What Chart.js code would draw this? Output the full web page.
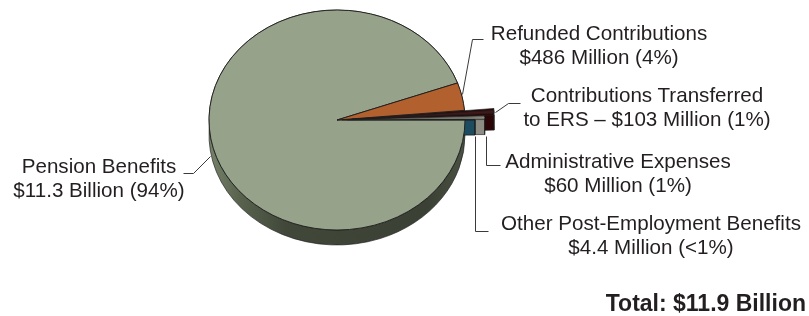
<!DOCTYPE html>
<html>
<head>
<meta charset="utf-8">
<script src="https://cdn.jsdelivr.net/npm/chart.js@4.4.1/dist/chart.umd.min.js"></script>
<style>
  body { margin: 0; background: #fff; }
  #wrap { position: relative; width: 809px; height: 316px; overflow: hidden;
          font-family: Arial, "Liberation Sans", sans-serif; color: #231f20; }
  #wrap canvas { position: absolute; left: 0; top: 0; }
  .lbl { position: absolute; font-size: 20.6px; line-height: 24px; text-align: center;
         white-space: nowrap; transform: translateX(-50%); }
  .total { position: absolute; right: 3px; top: 290px; font-weight: bold; font-size: 23px;
           line-height: 26px; white-space: nowrap; }
</style>
</head>
<body>
<div id="wrap">
  <canvas id="chartGastos" width="809" height="316"></canvas>
</div>
<script>
// datos (millones de dolares)
const categorias = ['Pension Benefits', 'Refunded Contributions', 'Contributions Transferred to ERS',
                    'Administrative Expenses', 'Other Post-Employment Benefits'];
const montos = [11300, 486, 103, 60, 4.4];
const montosTexto = ['$11.3 Billion', '$486 Million', '$103 Million', '$60 Million', '$4.4 Million'];
const porcentajes = ['94%', '4%', '1%', '1%', '<1%'];
const totalTexto = 'Total: $11.9 Billion';

// textos de etiquetas
const etiquetas = [
    ['Pension Benefits', `${montosTexto[0]} (${porcentajes[0]})`],
    ['Refunded Contributions', `${montosTexto[1]} (${porcentajes[1]})`],
    ['Contributions Transferred', `to ERS – ${montosTexto[2]} (${porcentajes[2]})`],
    ['Administrative Expenses', `${montosTexto[3]} (${porcentajes[3]})`],
    ['Other Post-Employment Benefits', `${montosTexto[4]} (${porcentajes[4]})`]
];

// estilos
const coloresTapa = ['#97a28b', '#b3602f', '#4d1414', '#efedd4', '#1a4d5f'];
const coloresLado = [null, '#7a3d1c', '#2c0606', '#8e8d84', '#1b4c60'];
const bordes = [1, 1, 1, 0.5, 0.5];
const separacion = [0, 0, 60, 40, 20];
const posEtiquetas = [[99, 154], [599, 21], [647, 83], [618, 149], [651, 211]];
const guias = [
    [[183, 173], [193, 173], [210, 156]],
    [[483, 39], [472, 39], [462, 94]],
    [[520, 103], [508, 103], [495, 112]],
    [[486, 136], [486, 165], [500, 165]],
    [[475, 136], [475, 231], [488, 231]]
];

const CY = 120;       // centro vertical en pantalla
const CY0 = 158;      // centro vertical sin inclinar
const K = 110 / 128;  // aplastamiento de la elipse
const PROF = 15;      // grosor del lado (pantalla)

const inclinar = (ctx) => {
    ctx.translate(0, CY - CY0 * K);
    ctx.scale(1, K);
};

// geometria igual a ArcElement (offset / 4)
const geomSector = (arc) => {
    const off = (arc.options.offset || 0) / 4;
    const mid = (arc.startAngle + arc.endAngle) / 2;
    const fix = 1 - Math.sin(Math.min(Math.PI, arc.endAngle - arc.startAngle));
    return {
        cx: arc.x + Math.cos(mid) * off,
        cy: arc.y + Math.sin(mid) * off,
        r: arc.outerRadius + off * fix,
        a0: arc.startAngle,
        a1: arc.endAngle
    };
};

// lado: banda exterior + caras radiales
const dibujarLado = (ctx, g, fill) => {
    const D = PROF / K;
    const px = (a) => g.cx + Math.cos(a) * g.r;
    const py = (a) => g.cy + Math.sin(a) * g.r;
    ctx.fillStyle = fill;
    ctx.strokeStyle = '#1e1e1e';
    ctx.lineWidth = 0.7;

    [g.a0, g.a1].forEach(a => {
        ctx.beginPath();
        ctx.moveTo(g.cx, g.cy);
        ctx.lineTo(px(a), py(a));
        ctx.lineTo(px(a), py(a) + D);
        ctx.lineTo(g.cx, g.cy + D);
        ctx.closePath();
        ctx.fill();
        ctx.stroke();
    });

    ctx.beginPath();
    ctx.arc(g.cx, g.cy, g.r, g.a0, g.a1);
    ctx.lineTo(px(g.a1), py(g.a1) + D);
    ctx.arc(g.cx, g.cy + D, g.r, g.a1, g.a0, true);
    ctx.closePath();
    ctx.fill();
    ctx.stroke();
};

const pastel3d = {
    id: 'pastel3d',
    beforeDatasetsDraw(chart) {
        const ctx = chart.ctx;
        const arcs = chart.getDatasetMeta(0).data;
        const grad = ctx.createLinearGradient(209, 0, 465, 0);
        grad.addColorStop(0, '#77826b');
        grad.addColorStop(0.12, '#58624d');
        grad.addColorStop(0.3, '#41483a');
        grad.addColorStop(0.85, '#3a4033');
        grad.addColorStop(1, '#4a5243');

        ctx.save();
        inclinar(ctx);
        arcs.forEach((arc, i) => {
            dibujarLado(ctx, geomSector(arc), i === 0 ? grad : coloresLado[i]);
        });
        ctx.restore();

        ctx.save();
        inclinar(ctx);
    },
    afterDatasetsDraw(chart) {
        chart.ctx.restore();
    },
    afterDraw(chart) {
        const ctx = chart.ctx;
        ctx.save();
        ctx.strokeStyle = '#3a3a3a';
        ctx.lineWidth = 1;
        guias.forEach(g => {
            ctx.beginPath();
            g.forEach(([x, y], j) => j ? ctx.lineTo(x + 0.5, y + 0.5) : ctx.moveTo(x + 0.5, y + 0.5));
            ctx.stroke();
        });
        ctx.restore();
    }
};

const canvas = document.getElementById('chartGastos');
const context = canvas.getContext('2d');

const chartGastos = new Chart(context, {
    type: 'pie',
    data: {
        labels: categorias,
        datasets: [
            {
                data: montos,
                backgroundColor: coloresTapa,
                borderColor: '#1e1e1e',
                borderWidth: bordes,
                offset: separacion,
                clip: false
            }
        ]
    },
    options: {
        responsive: false,
        devicePixelRatio: 1,
        animation: false,
        rotation: 90,
        radius: 128,
        layout: {
            padding: { left: 209, right: 344, top: 30, bottom: 30 }
        },
        plugins: {
            legend: { display: false },
            tooltip: { enabled: false }
        }
    },
    plugins: [pastel3d]
});

// etiquetas como texto
const wrap = document.getElementById('wrap');
etiquetas.forEach((lineas, i) => {
    const div = document.createElement('div');
    div.className = 'lbl';
    div.style.left = posEtiquetas[i][0] + 'px';
    div.style.top = posEtiquetas[i][1] + 'px';
    div.innerHTML = lineas.join('<br>');
    wrap.appendChild(div);
});
const total = document.createElement('div');
total.className = 'total';
total.textContent = totalTexto;
wrap.appendChild(total);
</script>
</body>
</html>
